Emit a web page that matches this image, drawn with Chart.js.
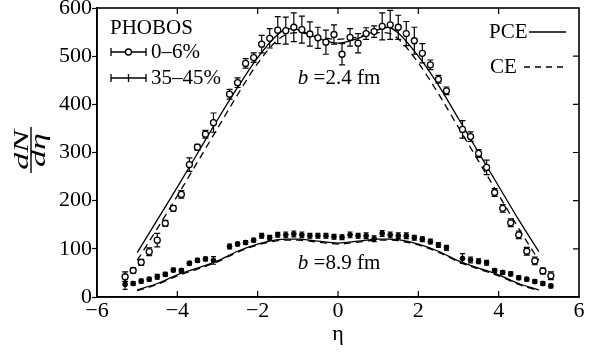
<!DOCTYPE html>
<html><head><meta charset="utf-8">
<script src="https://cdn.jsdelivr.net/npm/chart.js@4"></script>
<style>html,body{margin:0;padding:0;background:#fff}canvas{display:block}</style>
</head><body>
<canvas id="c" width="595" height="352"></canvas>
<script>
// ---- data ----
const eta = [-5.3,-5.1,-4.9,-4.7,-4.5,-4.3,-4.1,-3.9,-3.7,-3.5,-3.3,-3.1,
  -2.7,-2.5,-2.3,-2.1,-1.9,-1.7,-1.5,-1.3,-1.1,-0.9,-0.7,-0.5,-0.3,-0.1,
  0.1,0.3,0.5,0.7,0.9,1.1,1.3,1.5,1.7,1.9,2.1,2.3,2.5,2.7,
  3.1,3.3,3.5,3.7,3.9,4.1,4.3,4.5,4.7,4.9,5.1,5.3];
const dNCentral = [42,55,72,94,118,153,184,213,275,311,338,362,
  421,445,485,497,525,537,554,553,560,555,546,538,529,545,
  504,539,527,547,551,562,565,560,547,532,506,482,452,428,
  348,333,298,269,217,184,154,129,95,75,54,44];
const errCentral = [10,5,6,8,14,6,6,8,14,6,8,20,
  10,10,10,10,18,20,28,28,30,28,25,22,25,20,
  22,18,20,12,12,28,30,25,25,28,20,10,8,8,
  18,10,8,15,8,8,8,8,8,8,6,8];
const dNPeripheral = [26,28,33,37,42,47,56,55,70,76,79,76,
  105,110,113,118,127,123,129,129,131,129,127,127,127,125,
  124,129,127,127,121,132,129,127,127,123,120,115,108,102,
  80,77,74,71,55,51,48,40,37,32,28,23];
const errPeripheral = [10,4,4,4,5,4,4,4,4,4,4,8,
  5,4,4,4,5,5,5,6,6,6,5,5,5,5,
  5,6,5,6,6,6,6,6,6,5,5,5,5,5,
  10,6,5,5,4,4,4,4,4,4,4,4];
const etaCurve = [-5,-4.5,-4,-3.5,-3,-2.5,-2,-1.5,-1.25,-1,-0.5,0,0.5,1,1.25,1.5,2,2.5,3,3.5,4,4.5,5];
const pceCentral = [92,160,228,298,368,435,497,545,557,555,537,527,537,555,560,548,500,440,370,300,230,160,94];
const ceCentral  = [76,142,210,280,350,420,485,534,546,549,540,535,540,549,548,536,486,422,352,282,212,142,76];
const pcePeripheral = [15,28,46,60,75,95,110,119,120,120,116,112,116,120,120,119,110,95,75,60,46,28,15];
const cePeripheral  = [13,26,44,58,73,93,108,117,118,118,114,110,114,118,118,117,108,93,73,58,44,26,13];
const xTicks = [-6,-4,-2,0,2,4,6];
const yTicks = [0,100,200,300,400,500,600];

const SERIF = "'Liberation Serif','Times New Roman',serif";
const pts = (xs, ys) => xs.map((v,i)=>({x:v, y:ys[i]}));

const errorBars = {
  id:'errorBars',
  beforeDatasetsDraw(chart){
    const {ctx, scales:{x,y}} = chart;
    ctx.save(); ctx.strokeStyle='#000'; ctx.lineWidth=1.2;
    const draw = (vals, errs, cap) => {
      eta.forEach((e,i)=>{
        const px=x.getPixelForValue(e);
        const top=y.getPixelForValue(vals[i]+errs[i]);
        const bot=y.getPixelForValue(vals[i]-errs[i]);
        ctx.beginPath();
        ctx.moveTo(px,top); ctx.lineTo(px,bot);
        ctx.moveTo(px-cap,top); ctx.lineTo(px+cap,top);
        ctx.moveTo(px-cap,bot); ctx.lineTo(px+cap,bot);
        ctx.stroke();
      });
    };
    draw(dNCentral, errCentral, 3);
    draw(dNPeripheral, errPeripheral, 2.5);
    ctx.restore();
  }
};

const decor = {
  id:'decor',
  afterDraw(chart){
    const {ctx, chartArea:a, scales:{x,y}} = chart;
    ctx.save();
    ctx.strokeStyle='#000'; ctx.fillStyle='#000';
    ctx.lineWidth=1.6;
    ctx.strokeRect(a.left, a.top, a.right-a.left, a.bottom-a.top);
    ctx.lineWidth=1.2;
    ctx.beginPath();
    xTicks.slice(1,-1).forEach(v=>{
      const px=x.getPixelForValue(v);
      ctx.moveTo(px,a.top); ctx.lineTo(px,a.top+6);
      ctx.moveTo(px,a.bottom); ctx.lineTo(px,a.bottom-6);
    });
    yTicks.slice(1,-1).forEach(v=>{
      const py=y.getPixelForValue(v);
      ctx.moveTo(a.right,py); ctx.lineTo(a.right-6,py);
    });
    ctx.stroke();

    // x title
    ctx.font = "22px "+SERIF;
    ctx.textAlign='center'; ctx.textBaseline='middle';
    ctx.fillText('η', (a.left+a.right)/2, 334);

    // y title: rotated fraction dN/dη
    ctx.save();
    ctx.translate(31,150);
    ctx.rotate(-Math.PI/2);
    ctx.scale(1.7,1);
    ctx.font = "italic 20px "+SERIF;
    ctx.fillText('dN', 0, -8);
    ctx.fillText('dη', 0, 9);
    ctx.restore();
    ctx.beginPath(); ctx.lineWidth=1.4;
    ctx.moveTo(31,127); ctx.lineTo(31,173); ctx.stroke();

    // legend (left)
    ctx.textAlign='left'; ctx.textBaseline='middle';
    ctx.font = "21px "+SERIF;
    ctx.fillText('PHOBOS', 110, 28);
    ctx.fillText('0–6%', 151, 52);
    ctx.fillText('35–45%', 151, 78);
    ctx.lineWidth=1.3;
    [52,78].forEach(yy=>{
      ctx.beginPath();
      ctx.moveTo(111,yy); ctx.lineTo(146,yy);
      ctx.moveTo(111,yy-4); ctx.lineTo(111,yy+4);
      ctx.moveTo(146,yy-4); ctx.lineTo(146,yy+4);
      ctx.stroke();
    });
    ctx.beginPath(); ctx.arc(128.5,52,3,0,Math.PI*2);
    ctx.fillStyle='#fff'; ctx.fill(); ctx.stroke(); ctx.fillStyle='#000';
    ctx.beginPath(); ctx.moveTo(128.5,74); ctx.lineTo(128.5,82); ctx.stroke();

    // legend (right)
    ctx.fillText('PCE', 489, 32);
    ctx.fillText('CE', 490, 67);
    ctx.beginPath(); ctx.lineWidth=1.3;
    ctx.moveTo(529,32); ctx.lineTo(566,32); ctx.stroke();
    ctx.setLineDash([6,5]);
    ctx.beginPath(); ctx.moveTo(524,67); ctx.lineTo(566,67); ctx.stroke();
    ctx.setLineDash([]);

    // annotations
    const drawB = (label, ex, ey) => {
      const px=x.getPixelForValue(ex), py=y.getPixelForValue(ey);
      ctx.font = "italic 21px "+SERIF;
      ctx.fillText('b', px, py);
      const w = ctx.measureText('b ').width;
      ctx.font = "21px "+SERIF;
      ctx.fillText(label, px+w, py);
    };
    drawB('=2.4 fm', -1.0, 453);
    drawB('=8.9 fm', -1.0, 70);
    ctx.restore();
  }
};

new Chart(document.getElementById('c'), {
  type:'scatter',
  data:{datasets:[
    {label:'0–6%', data:pts(eta,dNCentral), pointStyle:'circle', pointRadius:3,
     pointBackgroundColor:'#fff', pointBorderColor:'#000', pointBorderWidth:1.3, showLine:false, order:1},
    {label:'35–45%', data:pts(eta,dNPeripheral), pointStyle:'circle', pointRadius:2.4,
     pointBackgroundColor:'#000', pointBorderColor:'#000', pointBorderWidth:1, showLine:false, order:1},
    {label:'PCE', data:pts(etaCurve,pceCentral), showLine:true, borderColor:'#000', borderWidth:1.3,
     pointRadius:0, cubicInterpolationMode:'monotone', order:2},
    {label:'CE', data:pts(etaCurve,ceCentral), showLine:true, borderColor:'#000', borderWidth:1.3,
     borderDash:[7,5], pointRadius:0, cubicInterpolationMode:'monotone', order:2},
    {label:'PCE b=8.9', data:pts(etaCurve,pcePeripheral), showLine:true, borderColor:'#000', borderWidth:1.3,
     pointRadius:0, cubicInterpolationMode:'monotone', order:2},
    {label:'CE b=8.9', data:pts(etaCurve,cePeripheral), showLine:true, borderColor:'#000', borderWidth:1.3,
     borderDash:[7,5], pointRadius:0, cubicInterpolationMode:'monotone', order:2}
  ]},
  options:{
    responsive:false, animation:false, events:[],
    layout:{padding:{left:0,right:16,top:8,bottom:0}},
    plugins:{legend:{display:false}, tooltip:{enabled:false}},
    scales:{
      x:{type:'linear', min:-6, max:6,
        afterBuildTicks(s){ s.ticks = xTicks.map(v=>({value:v})); },
        afterFit(s){ s.height = 55; s.paddingLeft = 0; s.paddingRight = 0; },
        ticks:{color:'#000', font:{family:SERIF,size:22}, padding:1,
          callback:v=>String(v).replace('-','−')},
        grid:{drawOnChartArea:false, drawTicks:false},
        border:{color:'#000', width:1.6}},
      y:{type:'linear', min:0, max:600,
        afterBuildTicks(s){ s.ticks = yTicks.map(v=>({value:v})); },
        afterFit(s){ s.width = 97; s.paddingTop = 0; s.paddingBottom = 0; },
        ticks:{color:'#000', font:{family:SERIF,size:22}, padding:0},
        grid:{drawOnChartArea:false, drawTicks:true, tickLength:5, tickColor:'#000', tickWidth:1.2},
        border:{color:'#000', width:1.6}}
    }
  },
  plugins:[errorBars, decor]
});
</script>
</body></html>
